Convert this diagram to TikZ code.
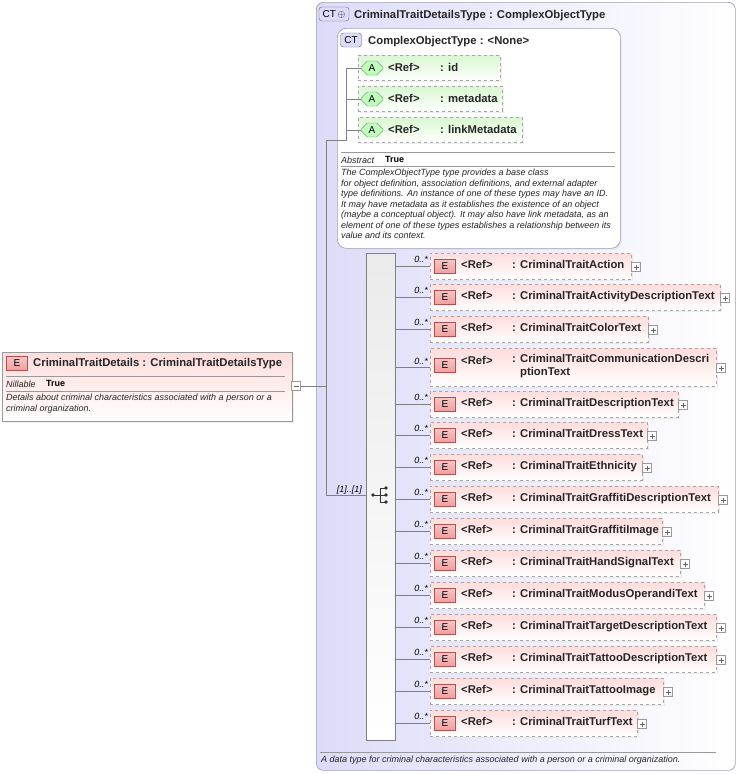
\documentclass[tikz,border=0pt]{standalone}
\usepackage{fontspec}
\setmainfont{Liberation Sans}
\usetikzlibrary{shapes.geometric,shapes.misc,shadows}
\definecolor{ctfill}{HTML}{DCDCFA}
\definecolor{ctborder}{HTML}{A0A0B0}
\definecolor{efill}{HTML}{FFDCDC}
\definecolor{ebadge}{HTML}{F0A0A0}
\definecolor{eborder}{HTML}{B05050}
\definecolor{afill}{HTML}{D8F8D0}
\definecolor{aborder}{HTML}{509050}
\definecolor{lin}{HTML}{808080}
\tikzset{
  x=1pt,y=-1pt,
  lbl/.style={font=\fontsize{11.3}{13}\selectfont\bfseries,inner sep=0pt,anchor=base west,text=black!85},
  small/.style={font=\fontsize{9}{10.5}\selectfont\itshape,inner sep=0pt,anchor=west,text=black!85},
  smallb/.style={font=\fontsize{9}{10.5}\selectfont\bfseries,inner sep=0pt,anchor=west},
  conn/.style={draw=lin,line width=0.6pt},
  elem/.style={draw=black!35,dashed,line width=0.6pt,left color=efill,right color=white,shading angle=0,inner sep=0pt,anchor=north west,drop shadow={shadow xshift=1.5pt,shadow yshift=-1.5pt,fill=black!12}},
  ebadge/.style={draw=eborder,fill=ebadge,top color=ebadge!60,bottom color=ebadge,minimum width=21pt,minimum height=14pt,inner sep=0pt,font=\fontsize{10}{12}\selectfont},
  plusbox/.style={draw=black!40,fill=white,minimum size=9pt,inner sep=0pt},
  mult/.style={font=\fontsize{9}{10}\selectfont\itshape,inner sep=0pt,anchor=east},
}
\begin{document}
\begin{tikzpicture}
\useasboundingbox (0,0) rectangle (738,774);
% outer complex type
\node[draw=ctborder,rounded corners=7pt,left color=ctfill,right color=white,shading angle=90,minimum width=419pt,minimum height=768pt,anchor=north west,inner sep=0pt,line width=0.7pt] (ct) at (316,2) {};
\node[draw=black!60,fill=ctfill,rounded corners=3pt,minimum width=30pt,minimum height=14pt,inner sep=0pt,font=\fontsize{10}{12}\selectfont] (ctb) at (334,14) {CT\,$\oplus$};
\node[lbl] (cttitle) at (354,18) {CriminalTraitDetailsType : ComplexObjectType};
% inner complex type
\node[draw=ctborder,rounded corners=9pt,fill=white,minimum width=283pt,minimum height=220pt,anchor=north west,inner sep=0pt,line width=0.7pt,drop shadow={shadow xshift=1.5pt,shadow yshift=-1.5pt,fill=black!12}] (ct2) at (337,28) {};
\node[draw=black!60,fill=ctfill,rounded corners=3pt,minimum width=21pt,minimum height=14pt,inner sep=0pt,font=\fontsize{10}{12}\selectfont] (ct2b) at (351,40) {CT};
\node[lbl] (ct2title) at (368,44) {ComplexObjectType : <None>};
% attributes
\foreach \n/\y/\r/\t in {aid/55/500/id, ameta/86/502/metadata, alink/117/522/linkMetadata}{
  \node[draw=black!35,dashed,left color=afill,right color=white,shading angle=0,minimum width={\r-358},minimum height=25pt,anchor=north west,inner sep=0pt,drop shadow={shadow xshift=1.5pt,shadow yshift=-1.5pt,fill=black!12}] (\n) at (358,\y) {};
  \node[draw=aborder,fill=afill!70!green!60,chamfered rectangle,chamfered rectangle xsep=3pt,minimum width=22pt,minimum height=14pt,inner sep=0pt,font=\fontsize{10}{12}\selectfont] (\n b) at (372,\y+13) {A};
  \node[lbl] at (388,\y+16.5) {<Ref>};
  \node[lbl] at (440,\y+16.5) {: \t};
  \draw[conn] (346,\y+13) -- (\n b.west);
}
\draw[conn] (346,68) -- (346,130);
\draw[draw=black!40] (341,152) -- (615,152);
\draw[draw=black!40] (341,166) -- (615,166);
\node[small] at (341,160) {Abstract};
\node[smallb] at (385,159.5) {True};
\node[small,align=left,anchor=north west] at (341,169) {The ComplexObjectType type provides a base class\\for object definition, association definitions, and external adapter\\type definitions. An instance of one of these types may have an ID.\\It may have metadata as it establishes the existence of an object\\(maybe a conceptual object). It may also have link metadata, as an\\element of one of these types establishes a relationship between its\\value and its context.};
% sequence bar
\node[draw=black!50,left color=black!8,right color=white,shading angle=0,minimum width=29pt,minimum height=487pt,anchor=north west,inner sep=0pt] (seq) at (366,253) {};
% compositor icon
\fill[black!80] (373,495) circle (1.8pt);
\draw[black!80,line width=0.8pt] (373,495) -- (380,495) (380,488) -- (380,502) (380,488) -- (386,488) (380,495) -- (386,495) (380,502) -- (386,502);
\foreach \yy in {488,495,502} \fill[black!80] (386,\yy) circle (1.8pt);
% main element
\node[draw=black!40,left color=efill,right color=white,shading angle=0,minimum width=290pt,minimum height=69pt,anchor=north west,inner sep=0pt,drop shadow={shadow xshift=1.5pt,shadow yshift=-1.5pt,fill=black!12}] (main) at (2,352) {};
\node[ebadge] (mainb) at (17,363) {E};
\node[lbl] at (33,366.5) {CriminalTraitDetails : CriminalTraitDetailsType};
\draw[draw=black!40] (6,376) -- (285,376);
\draw[draw=black!40] (6,391) -- (285,391);
\node[small] at (6,384) {Nillable};
\node[smallb] at (46,383.5) {True};
\node[small,align=left,anchor=north west] at (6,394) {Details about criminal characteristics associated with a person or a\\criminal organization.};
\node[plusbox] (mainpm) at (296,386) {};
\draw[black!60,line width=0.5pt] (293.5,386) -- (298.5,386);
% main connectors
\coordinate (j1) at (326,386);
\coordinate (j2) at (326,140);
\coordinate (j3) at (326,495);
\draw[conn] (mainpm.east) -- (j1);
\draw[conn] (346,130) |- (j2) -- (j3) -- (seq.west |- j3);
\node[mult] at (362,490) {[1]..[1]};
% elements
\foreach \n/\t/\h/\r/\nm in {
 e1/253/26/631/CriminalTraitAction,
 e2/284/26/720/CriminalTraitActivityDescriptionText,
 e3/316/26/648/CriminalTraitColorText,
 e5/391/26/678/CriminalTraitDescriptionText,
 e6/422/26/647/CriminalTraitDressText,
 e7/454/26/642/CriminalTraitEthnicity,
 e8/486/26/718/CriminalTraitGraffitiDescriptionText,
 e9/518/26/662/CriminalTraitGraffitiImage,
 e10/550/26/680/CriminalTraitHandSignalText,
 e11/582/26/704/CriminalTraitModusOperandiText,
 e12/614/26/716/CriminalTraitTargetDescriptionText,
 e13/646/26/716/CriminalTraitTattooDescriptionText,
 e14/678/26/663/CriminalTraitTattooImage,
 e15/710/26/637/CriminalTraitTurfText}{
  \node[elem,minimum width={\r-430},minimum height=\h] (\n) at (430,\t) {};
  \node[ebadge] (\n b) at (445,\t+13) {E};
  \node[lbl] at (461,\t+15.5) {<Ref>};
  \node[lbl] at (512,\t+15.5) {: \nm};
  \node[plusbox] (\n p) at (\r+5,\t+14) {};
  \draw[black!60,line width=0.4pt] (\r+2.5,\t+14) -- (\r+7.5,\t+14) (\r+5,\t+11.5) -- (\r+5,\t+16.5);
  \draw[conn] (seq.east |- \n.west) -- (\n.west);
  \node[mult] at (428,\t+6) {0..*};
}
% two-line element
\node[elem,minimum width=286pt,minimum height=38pt] (e4) at (430,348) {};
\node[ebadge] (e4b) at (445,365) {E};
\node[lbl] at (461,364) {<Ref>};
\node[lbl,align=left,anchor=north west] at (512,354) {: CriminalTraitCommunicationDescri\\\phantom{: }ptionText};
\node[plusbox] (e4p) at (721,368) {};
\draw[black!60,line width=0.4pt] (718.5,368) -- (723.5,368) (721,365.5) -- (721,370.5);
\draw[conn] (seq.east |- e4.west) -- (e4.west);
\node[mult] at (428,361) {0..*};
% bottom
\draw[draw=black!40] (320,752) -- (716,752);
\node[small] at (321,760) {A data type for criminal characteristics associated with a person or a criminal organization.};
\end{tikzpicture}
\end{document}
